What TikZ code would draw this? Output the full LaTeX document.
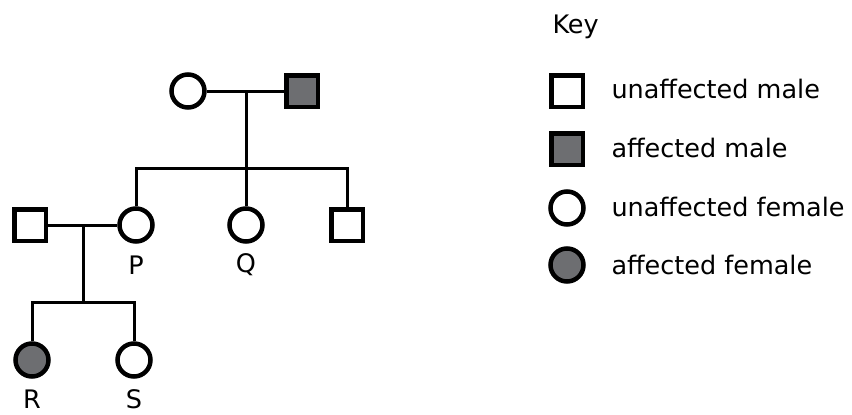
\documentclass[tikz,border=0pt]{standalone}
\usepackage{fontspec}
\setmainfont{DejaVu Sans}
\definecolor{affgray}{HTML}{6D6E71}
\begin{document}
\begin{tikzpicture}[x=1pt,y=-1pt,line width=3pt,
  male/.style={draw, rectangle, minimum size=31.5pt, line width=4.5pt, fill=white},
  female/.style={draw, circle, minimum size=33pt, line width=4.5pt, fill=white},
  aff/.style={fill=affgray},
  lbl/.style={font=\fontsize{25.5}{30}\selectfont, inner sep=0pt}]
  \useasboundingbox (0,0) rectangle (852,415);
  % first generation
  \node[female] (gm) at (188,91) {};
  \node[male, aff] (gf) at (302,91) {};
  \coordinate (m1) at (246,91);
  \coordinate (s1) at (246,168);
  \draw (gm) -- (gf);
  \draw (m1) -- (s1);
  % second generation
  \node[male] (h) at (30,225) {};
  \node[female] (p) at (136,225) {};
  \node[female] (q) at (246,225) {};
  \node[male] (b) at (347,225) {};
  \draw (p) |- (s1) -| (b);
  \draw (s1) -- (q);
  \coordinate (m2) at (83,225);
  \coordinate (s2) at (83,302);
  \draw (h) -- (p);
  \draw (m2) -- (s2);
  % third generation
  \node[female, aff] (r) at (32,360) {};
  \node[female] (s) at (134,360) {};
  \draw (r) |- (s2) -| (s);
  \node[lbl] (pl) at (136,265) {P};
  \node[lbl] (ql) at (246,265) {Q};
  \node[lbl] (rl) at (32,399) {R};
  \node[lbl] (sl) at (134,399) {S};
  % key
  \node[lbl, anchor=base west] (key) at (551,34) {Key};
  \node[male] (k1) at (567,91) {};
  \node[male, aff] (k2) at (567,149) {};
  \node[female] (k3) at (567,208) {};
  \node[female, aff] (k4) at (567,265) {};
  \node[lbl, anchor=base west] (t1) at (610,98) {unaffected male};
  \node[lbl, anchor=base west] (t2) at (610,157) {affected male};
  \node[lbl, anchor=base west] (t3) at (610,216) {unaffected female};
  \node[lbl, anchor=base west] (t4) at (610,274) {affected female};
\end{tikzpicture}
\end{document}
